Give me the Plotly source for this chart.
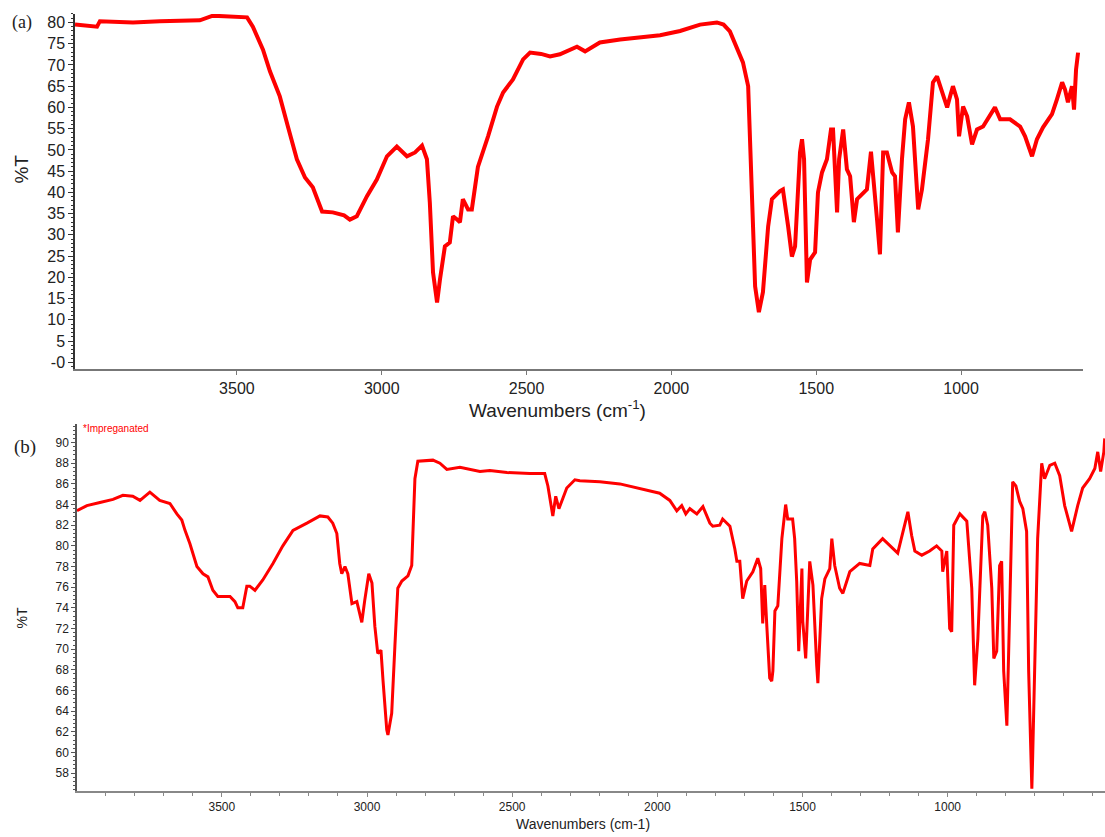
import plotly.graph_objects as go

# ---------------- Panel (a) data ----------------
a_wn = [4059, 4030, 3983, 3973, 3859, 3766, 3628, 3583, 3524, 3465, 3445, 3410, 3386, 3352,
        3324, 3293, 3265, 3238, 3206, 3169, 3130, 3110, 3086, 3051, 3017, 2982, 2948, 2913,
        2885, 2861, 2844, 2834, 2823, 2809, 2799, 2782, 2765, 2754, 2740, 2730, 2720, 2702,
        2689, 2668, 2633, 2602, 2581, 2547, 2512, 2488, 2450, 2419, 2385, 2326, 2298, 2247,
        2177, 2108, 2039, 1970, 1901, 1843, 1820, 1798, 1773, 1753, 1735, 1729, 1722, 1711,
        1698, 1684, 1666, 1653, 1625, 1615, 1597, 1584, 1573, 1556, 1549, 1542, 1532, 1521,
        1504, 1494, 1480, 1463, 1449, 1442, 1428, 1421, 1407, 1394, 1383, 1370, 1359, 1338,
        1325, 1311, 1304, 1290, 1280, 1269, 1256, 1238, 1228, 1218, 1204, 1193, 1180, 1166,
        1148, 1135, 1114, 1097, 1083, 1066, 1048, 1038, 1028, 1014, 1007, 993, 979, 962,
        945, 924, 907, 883, 865, 831, 796, 779, 755, 738, 717, 686, 669, 651, 641, 631,
        617, 610, 603, 596]
a_T = [79.5, 79.4, 79.0, 80.3, 80.0, 80.3, 80.5, 81.6, 81.4, 81.2, 79.0, 73.6, 68.5, 62.6,
       55.5, 47.8, 43.5, 41.2, 35.5, 35.3, 34.6, 33.6, 34.4, 39.1, 43.0, 48.5, 50.8, 48.5,
       49.4, 51.0, 47.8, 37.6, 21.2, 14.1, 19.5, 27.3, 28.2, 34.4, 33.6, 33.0, 38.4, 36.0,
       36.0, 46.0, 53.2, 60.2, 63.5, 66.6, 71.3, 72.9, 72.6, 72.0, 72.5, 74.3, 73.2, 75.3,
       76.0, 76.5, 77.0, 78.0, 79.5, 80.0, 79.5, 77.9, 73.6, 70.6, 65.0, 53.2, 40.0, 17.9,
       11.8, 16.5, 32.0, 38.4, 40.3, 40.7, 32.0, 24.9, 27.3, 49.4, 52.5, 47.8, 18.8, 24.2,
       25.9, 40.0, 44.7, 47.8, 54.8, 54.8, 35.3, 47.8, 54.8, 45.4, 43.8, 33.0, 38.4, 40.0,
       40.7, 49.6, 44.7, 33.6, 25.4, 49.4, 49.4, 44.7, 43.8, 30.6, 47.8, 57.2, 61.2, 55.5,
       36.0, 40.7, 52.5, 65.9, 67.3, 63.5, 60.0, 62.6, 65.0, 61.9, 53.2, 60.2, 57.9, 51.3,
       54.8, 55.5, 57.2, 60.0, 57.2, 57.2, 55.5, 53.2, 48.5, 52.5, 55.3, 58.4, 61.9, 65.9,
       64.2, 61.2, 65.0, 59.5, 68.9, 72.9]

a_xticks = [3500, 3000, 2500, 2000, 1500, 1000]
a_yticks = [0, 5, 10, 15, 20, 25, 30, 35, 40, 45, 50, 55, 60, 65, 70, 75, 80]
a_yticktext = ["-0", "5", "10", "15", "20", "25", "30", "35", "40", "45", "50", "55",
               "60", "65", "70", "75", "80"]

# ---------------- Panel (b) data ----------------
b_wn = [3999, 3965, 3920, 3875, 3841, 3807, 3782, 3748, 3714, 3679, 3655, 3638, 3627, 3610,
        3586, 3565, 3548, 3531, 3514, 3472, 3455, 3445, 3428, 3414, 3404, 3386, 3359, 3324,
        3290, 3255, 3207, 3162, 3135, 3118, 3104, 3094, 3087, 3076, 3066, 3052, 3035, 3018,
        3008, 2994, 2983, 2973, 2963, 2952, 2945, 2932, 2928, 2915, 2904, 2894, 2880, 2859,
        2846, 2835, 2825, 2773, 2749, 2725, 2680, 2611, 2577, 2518, 2439, 2388, 2377, 2360,
        2350, 2339, 2312, 2284, 2267, 2198, 2129, 2026, 1992, 1957, 1933, 1916, 1902, 1888,
        1864, 1843, 1819, 1809, 1785, 1775, 1750, 1733, 1726, 1716, 1706, 1692, 1671, 1654,
        1644, 1637, 1630, 1623, 1613, 1606, 1602, 1595, 1585, 1571, 1558, 1551, 1534, 1527,
        1520, 1513, 1502, 1499, 1489, 1475, 1464, 1451, 1447, 1434, 1423, 1406, 1399, 1389,
        1372, 1361, 1337, 1303, 1268, 1258, 1224, 1172, 1155, 1137, 1124, 1113, 1089, 1062,
        1038, 1020, 1017, 1003, 993, 986, 979, 958, 934, 917, 907, 896, 879, 872, 862, 848,
        841, 831, 821, 814, 807, 796, 786, 776, 765, 752, 741, 728, 721, 710, 707, 700, 690,
        676, 666, 648, 631, 614, 597, 573, 552, 535, 511, 493, 483, 473, 462, 459]
b_T = [83.4, 83.9, 84.2, 84.5, 84.9, 84.8, 84.4, 85.2, 84.4, 84.1, 83.1, 82.5, 81.5, 80.2,
       78.0, 77.3, 77.0, 75.7, 75.1, 75.1, 74.6, 74.0, 74.0, 76.1, 76.1, 75.7, 76.7, 78.3,
       80.0, 81.5, 82.2, 82.9, 82.8, 82.2, 81.2, 78.3, 77.3, 78.0, 77.3, 74.4, 74.6, 72.6,
       74.7, 77.3, 76.4, 72.2, 69.6, 69.9, 67.0, 62.2, 61.7, 63.8, 70.3, 75.9, 76.6, 77.1,
       78.1, 86.5, 88.2, 88.3, 88.0, 87.4, 87.6, 87.2, 87.3, 87.1, 87.0, 87.0, 85.8, 82.9,
       84.8, 83.6, 85.6, 86.4, 86.3, 86.2, 86.0, 85.3, 85.1, 84.4, 83.4, 83.9, 83.1, 83.6,
       83.1, 83.8, 82.2, 81.9, 82.0, 82.6, 81.9, 79.7, 78.5, 78.5, 74.9, 76.6, 77.5, 78.8,
       77.8, 72.5, 76.2, 72.3, 67.2, 66.9, 67.9, 73.7, 74.2, 80.7, 84.0, 82.6, 82.6, 80.7,
       76.6, 69.8, 77.8, 72.7, 69.1, 78.5, 76.2, 68.4, 66.7, 74.9, 76.8, 77.8, 80.7, 78.1,
       75.9, 75.4, 77.5, 78.3, 78.1, 79.7, 80.7, 79.3, 81.4, 83.3, 81.0, 79.5, 79.1, 79.5,
       80.0, 79.5, 77.5, 79.5, 72.0, 71.7, 82.0, 83.1, 82.4, 75.9, 66.5, 71.0, 82.9, 83.3,
       82.0, 75.9, 69.1, 69.8, 78.1, 78.5, 67.9, 62.6, 74.2, 86.2, 85.8, 84.3, 83.6, 81.4,
       67.9, 56.5, 59.7, 67.9, 80.7, 88.0, 86.5, 87.8, 88.0, 86.8, 83.9, 81.4, 83.9, 85.6,
       86.5, 87.5, 89.1, 87.2, 89.1, 90.4]

b_xticks = [3500, 3000, 2500, 2000, 1500, 1000]
b_yticks = [58, 60, 62, 64, 66, 68, 70, 72, 74, 76, 78, 80, 82, 84, 86, 88, 90]

W, H = 1105, 837
def px(x):
    return x / W
def py(y):
    return 1 - y / H

RED = "#FF0000"
FONT = "Liberation Sans, Arial, sans-serif"

fig = go.Figure()
fig.add_trace(go.Scatter(x=a_wn, y=a_T, mode="lines", line=dict(color=RED, width=4),
                         xaxis="x", yaxis="y", showlegend=False, hoverinfo="skip"))
fig.add_trace(go.Scatter(x=b_wn, y=b_T, mode="lines", line=dict(color=RED, width=3),
                         xaxis="x2", yaxis="y2", showlegend=False, hoverinfo="skip"))

fig.update_layout(
    width=W, height=H,
    margin=dict(l=0, r=0, t=0, b=0),
    paper_bgcolor="white", plot_bgcolor="white",
    font=dict(family=FONT, color="#222"),
    xaxis=dict(domain=[px(75), px(1083)], range=[4059, 579], anchor="y",
               showgrid=False, zeroline=False, showline=True, linecolor="#777", linewidth=1.5,
               tickvals=a_xticks, ticks="outside", ticklen=4, tickcolor="#777",
               tickfont=dict(size=16, color="#222")),
    yaxis=dict(domain=[py(370), py(14)], range=[-1.6, 82], anchor="x",
               showgrid=False, zeroline=False, showline=True, linecolor="#333", linewidth=1.5,
               tickvals=a_yticks, ticktext=a_yticktext, ticks="outside", ticklen=5,
               tickcolor="#333", tickfont=dict(size=16, color="#222"),
               minor=dict(dtick=1, ticks="outside", ticklen=2, tickcolor="#333")),
    xaxis2=dict(domain=[px(77), 1.0], range=[3999, 458], anchor="y2",
                showgrid=False, zeroline=False, showline=True, linecolor="#888", linewidth=1.5,
                tickvals=b_xticks, ticks="outside", ticklen=4, tickcolor="#888",
                tickfont=dict(size=12, color="#222"),
                minor=dict(dtick=100, tick0=0, ticks="outside", ticklen=3, tickcolor="#888")),
    yaxis2=dict(domain=[py(793), py(425)], range=[56.26, 91.8], anchor="x2",
                showgrid=False, zeroline=False, showline=True, linecolor="#555", linewidth=1.5,
                tickvals=b_yticks, ticks="outside", ticklen=4, tickcolor="#555",
                tickfont=dict(size=12, color="#222"),
                minor=dict(dtick=0.4, ticks="outside", ticklen=2, tickcolor="#555")),
)

annotations = [
    dict(text="(a)", x=px(22), y=py(23), xref="paper", yref="paper", showarrow=False,
         xanchor="center", yanchor="middle",
         font=dict(family="Liberation Serif, Times New Roman, serif", size=18, color="#222")),
    dict(text="(b)", x=px(25), y=py(448), xref="paper", yref="paper", showarrow=False,
         xanchor="center", yanchor="middle",
         font=dict(family="Liberation Serif, Times New Roman, serif", size=19, color="#222")),
    dict(text="%T", x=px(22), y=py(170), xref="paper", yref="paper", showarrow=False,
         textangle=-90, xanchor="center", yanchor="middle",
         font=dict(family=FONT, size=19, color="#222")),
    dict(text="%T", x=px(22), y=py(620), xref="paper", yref="paper", showarrow=False,
         textangle=-90, xanchor="center", yanchor="middle",
         font=dict(family=FONT, size=14, color="#222")),
    dict(text="Wavenumbers (cm<sup>-1</sup>)", x=px(557), y=py(410), xref="paper", yref="paper",
         showarrow=False, xanchor="center", yanchor="middle",
         font=dict(family=FONT, size=19, color="#222")),
    dict(text="Wavenumbers (cm-1)", x=px(583), y=py(826), xref="paper", yref="paper",
         showarrow=False, xanchor="center", yanchor="middle",
         font=dict(family=FONT, size=14, color="#222")),
    dict(text="*Impreganated", x=px(81), y=py(430), xref="paper", yref="paper",
         showarrow=False, xanchor="left", yanchor="middle",
         font=dict(family=FONT, size=10, color=RED)),
]
fig.update_layout(annotations=annotations)

fig.write_html("out.html", config={"displayModeBar": False},
               post_script="document.body.style.margin='0';document.body.style.overflow='hidden';")
